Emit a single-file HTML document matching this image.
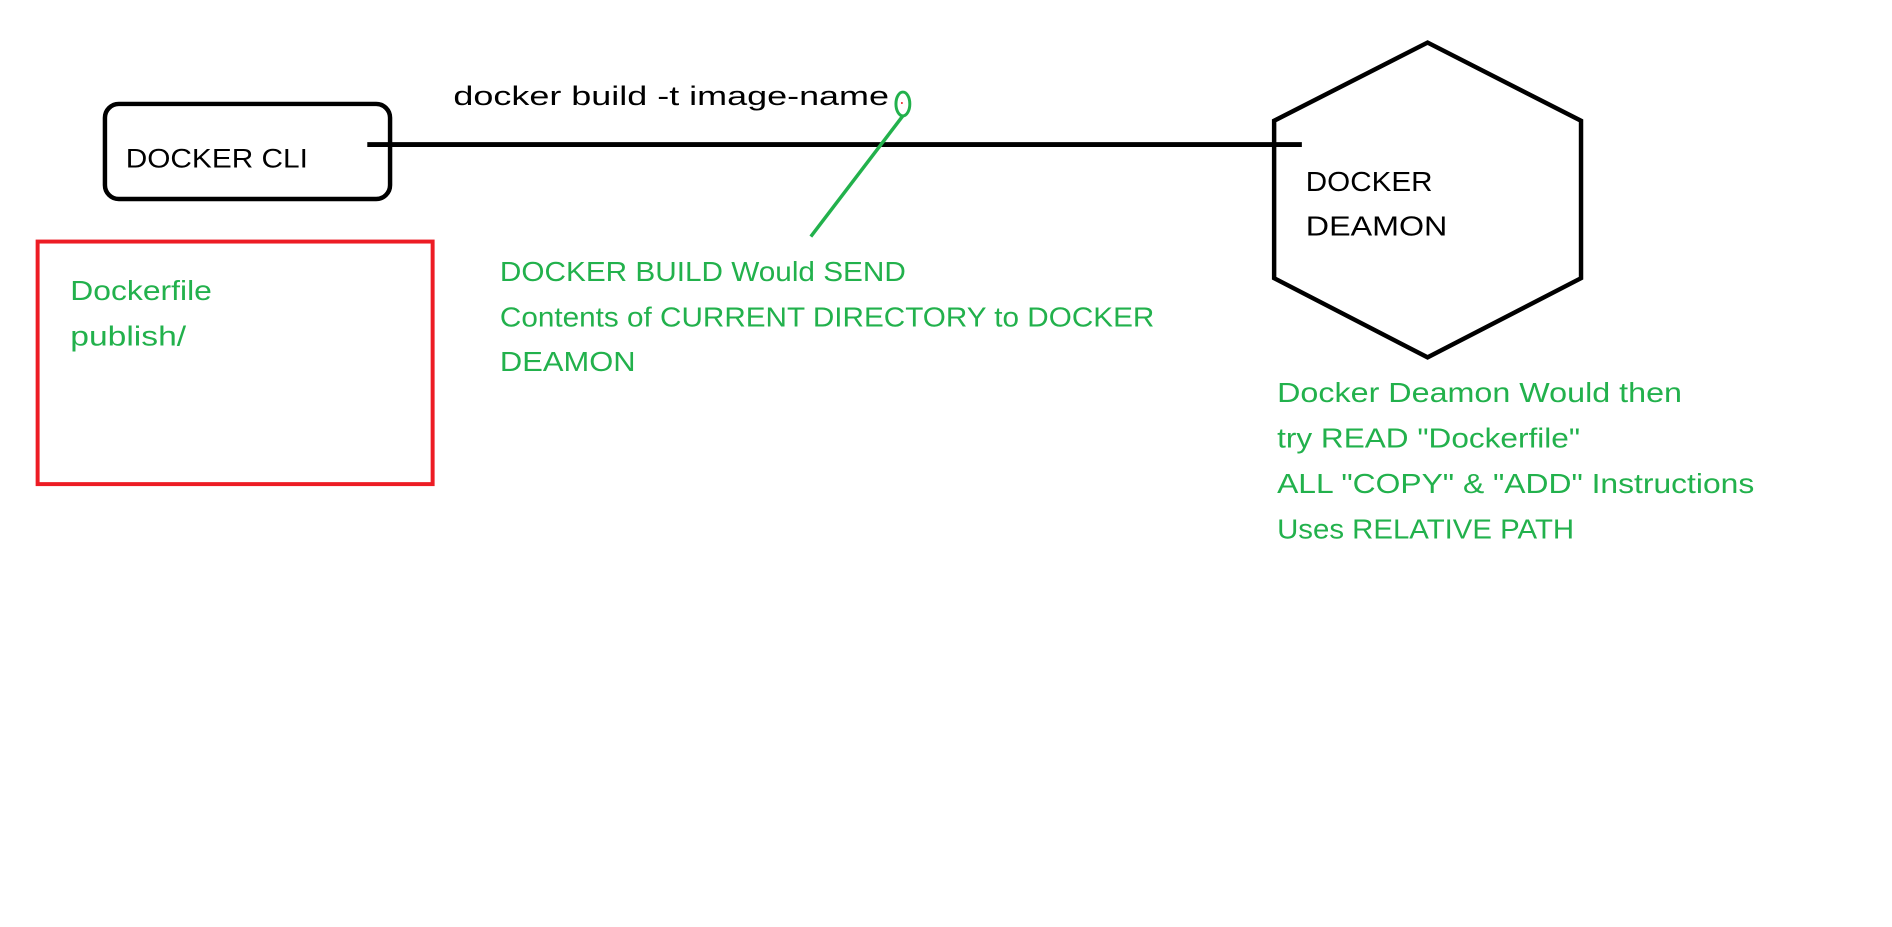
<!DOCTYPE html>
<html><head><meta charset="utf-8"><style>
html,body{margin:0;padding:0;background:#fff;}
svg{display:block;}
text{font-family:"Liberation Sans",sans-serif;}
</style></head><body>
<svg width="1892" height="927" viewBox="0 0 1892 927" xmlns="http://www.w3.org/2000/svg">
<rect x="0" y="0" width="1892" height="927" fill="#fff"/>
<g transform="scale(0.99)">
<rect x="106" y="105" width="288" height="96" rx="14" ry="14" fill="none" stroke="#000" stroke-width="4.5"/>
<text x="127" y="169" font-size="27" fill="#000" textLength="184" lengthAdjust="spacingAndGlyphs">DOCKER CLI</text>
<line x1="371" y1="146" x2="1315" y2="146" stroke="#000" stroke-width="5"/>
<text x="458" y="106" font-size="27" fill="#000" textLength="440" lengthAdjust="spacingAndGlyphs">docker  build -t image-name</text>
<ellipse cx="912" cy="105" rx="7" ry="12" fill="none" stroke="#22b14c" stroke-width="3"/>
<circle cx="911" cy="104" r="1" fill="#ed1c24"/>
<line x1="912" y1="117" x2="819" y2="239" stroke="#22b14c" stroke-width="3.5"/>
<polygon points="1442,43 1597,122 1597,281 1442,361 1287,281 1287,122" fill="none" stroke="#000" stroke-width="4.5"/>
<text x="1319" y="193" font-size="28" fill="#000" textLength="128" lengthAdjust="spacingAndGlyphs">DOCKER</text>
<text x="1319" y="238" font-size="28" fill="#000" textLength="143" lengthAdjust="spacingAndGlyphs">DEAMON</text>
<rect x="38" y="244" width="399" height="245" fill="none" stroke="#ed1c24" stroke-width="4"/>
<g fill="#22b14c" font-size="28">
<text x="71" y="303" textLength="143" lengthAdjust="spacingAndGlyphs">Dockerfile</text>
<text x="71" y="349" textLength="117" lengthAdjust="spacingAndGlyphs">publish/</text>
<text x="505" y="284" textLength="410" lengthAdjust="spacingAndGlyphs">DOCKER BUILD Would SEND</text>
<text x="505" y="330" textLength="661" lengthAdjust="spacingAndGlyphs">Contents of CURRENT DIRECTORY to DOCKER</text>
<text x="505" y="375" textLength="137" lengthAdjust="spacingAndGlyphs">DEAMON</text>
<text x="1290" y="406" textLength="409" lengthAdjust="spacingAndGlyphs">Docker Deamon Would then</text>
<text x="1290" y="452" textLength="306" lengthAdjust="spacingAndGlyphs">try READ "Dockerfile"</text>
<text x="1290" y="498" textLength="482" lengthAdjust="spacingAndGlyphs">ALL "COPY" &amp; "ADD" Instructions</text>
<text x="1290" y="544" textLength="300" lengthAdjust="spacingAndGlyphs">Uses RELATIVE PATH</text>
</g>
</g>
</svg>
</body></html>
